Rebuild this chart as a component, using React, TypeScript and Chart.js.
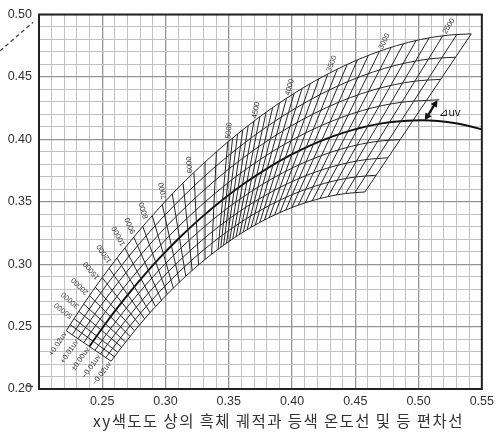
import React, { useEffect, useRef } from "react";
import { Chart, registerables } from "chart.js";

Chart.register(...registerables);

// ---------- Duv (equal deviation) curves, nodes from infinity (0 mired) to 2300 K ----------
const duvLevels = [0.02, 0.015, 0.01, 0.005, 0, -0.005, -0.01, -0.015, -0.02];
const duvLabelTexts = ["+0.02uv", "", "+0.01uv", "", "±0.00uv", "", "−0.01uv", "", "−0.02uv"];

const duvPlus020X = [0.22153, 0.22768, 0.2353, 0.24454, 0.25542, 0.26788, 0.28558, 0.30534, 0.32671, 0.34925, 0.37241, 0.39569, 0.41866, 0.44096, 0.46229, 0.48252, 0.50148, 0.51919, 0.53019, 0.54165];
const duvPlus020Y = [0.24664, 0.25637, 0.26805, 0.28158, 0.29668, 0.31295, 0.33439, 0.35623, 0.37762, 0.39794, 0.41651, 0.43298, 0.4471, 0.45877, 0.46802, 0.47502, 0.47994, 0.48298, 0.48396, 0.48448];
const duvPlus015X = [0.22624, 0.23228, 0.23973, 0.24871, 0.25923, 0.2712, 0.28809, 0.30682, 0.32698, 0.34815, 0.36984, 0.39162, 0.4131, 0.43399, 0.45402, 0.47307, 0.49101, 0.50782, 0.5183, 0.52925];
const duvPlus015Y = [0.2434, 0.25278, 0.26397, 0.27687, 0.29118, 0.30653, 0.32665, 0.34702, 0.36686, 0.38564, 0.40277, 0.41795, 0.43095, 0.44173, 0.4503, 0.45681, 0.46142, 0.46431, 0.46525, 0.46579];
const duvPlus010X = [0.23086, 0.2368, 0.24408, 0.25279, 0.26294, 0.27443, 0.29052, 0.30826, 0.32725, 0.34709, 0.36738, 0.38772, 0.4078, 0.42736, 0.44616, 0.46411, 0.48107, 0.49703, 0.50701, 0.51747];
const duvPlus010Y = [0.24023, 0.24926, 0.25998, 0.27226, 0.28582, 0.30029, 0.31914, 0.33811, 0.3565, 0.37385, 0.38963, 0.40359, 0.41557, 0.42551, 0.43345, 0.43952, 0.44384, 0.44657, 0.44749, 0.44804];
const duvPlus005X = [0.2354, 0.24124, 0.24834, 0.25679, 0.26657, 0.27757, 0.29289, 0.30966, 0.3275, 0.34608, 0.36502, 0.384, 0.40275, 0.42105, 0.43868, 0.45558, 0.47161, 0.48677, 0.49628, 0.50627];
const duvPlus005Y = [0.2371, 0.2458, 0.25606, 0.26775, 0.28059, 0.2942, 0.31185, 0.3295, 0.34652, 0.36252, 0.37703, 0.38988, 0.4009, 0.41007, 0.41743, 0.42307, 0.42712, 0.42972, 0.43061, 0.43117];
// Duv = 0 : blackbody (Planckian) locus, continued past 2300 K to 1740 K
const duvZeroX = [0.23987, 0.2456, 0.25251, 0.2607, 0.27011, 0.28063, 0.29518, 0.31101, 0.32775, 0.3451, 0.36276, 0.38045, 0.39792, 0.41502, 0.43156, 0.44746, 0.46262, 0.47701, 0.48605, 0.49561, 0.50338, 0.5154, 0.52669, 0.53723, 0.54713, 0.5564];
const duvZeroY = [0.23404, 0.2424, 0.25222, 0.26333, 0.27547, 0.28828, 0.30477, 0.32116, 0.3369, 0.35162, 0.36496, 0.37676, 0.38689, 0.39535, 0.40216, 0.40742, 0.41121, 0.41368, 0.41454, 0.4151, 0.41525, 0.41465, 0.41331, 0.41131, 0.40882, 0.40593];
const duvMinus005X = [0.24426, 0.24988, 0.25661, 0.26453, 0.27357, 0.28361, 0.29741, 0.31231, 0.32798, 0.34417, 0.36059, 0.37704, 0.39331, 0.40928, 0.42476, 0.43972, 0.45404, 0.4677, 0.47631, 0.48544];
const duvMinus005Y = [0.23102, 0.23907, 0.24845, 0.25901, 0.27048, 0.2825, 0.29789, 0.3131, 0.32761, 0.34114, 0.35338, 0.3642, 0.37351, 0.3813, 0.3876, 0.39249, 0.39605, 0.39839, 0.39922, 0.39978];
const duvMinus010X = [0.24858, 0.25408, 0.26063, 0.26827, 0.27695, 0.28652, 0.29958, 0.31357, 0.32821, 0.34326, 0.35851, 0.37378, 0.3889, 0.40378, 0.41827, 0.43234, 0.44586, 0.45882, 0.46702, 0.47574];
const duvMinus010Y = [0.22805, 0.23579, 0.24475, 0.25478, 0.2656, 0.27688, 0.29121, 0.30528, 0.31864, 0.33105, 0.34225, 0.35216, 0.36071, 0.36788, 0.3737, 0.37825, 0.38159, 0.38381, 0.38461, 0.38517];
const duvMinus015X = [0.25283, 0.25821, 0.26457, 0.27194, 0.28026, 0.28936, 0.30168, 0.3148, 0.32843, 0.34239, 0.35651, 0.37064, 0.38468, 0.39853, 0.41207, 0.42529, 0.43805, 0.45034, 0.45814, 0.46647];
const duvMinus015Y = [0.22513, 0.23258, 0.24113, 0.25064, 0.26083, 0.27139, 0.28472, 0.29771, 0.30997, 0.32133, 0.33156, 0.34061, 0.34844, 0.35503, 0.36041, 0.36464, 0.36777, 0.36988, 0.37065, 0.37121];
const duvMinus020X = [0.257, 0.26227, 0.26844, 0.27554, 0.28349, 0.29213, 0.30373, 0.31598, 0.32864, 0.34156, 0.35459, 0.36764, 0.38063, 0.3935, 0.40614, 0.41854, 0.43058, 0.44224, 0.44965, 0.45761];
const duvMinus020Y = [0.22226, 0.22941, 0.23757, 0.24658, 0.25617, 0.26603, 0.2784, 0.29036, 0.3016, 0.31196, 0.32128, 0.32953, 0.33668, 0.34273, 0.3477, 0.35163, 0.35457, 0.35656, 0.3573, 0.35785];

// ---------- isotemperature lines (ends at Duv +0.02 and -0.02) ----------
const isoTopX = [0.22153, 0.22461, 0.22768, 0.23149, 0.2353, 0.23992, 0.24454, 0.24998, 0.25542, 0.26165, 0.26788, 0.27496, 0.28204, 0.28953, 0.29744, 0.30534, 0.31389, 0.32244, 0.33122, 0.34023,
  0.34925, 0.35303, 0.35697, 0.36108, 0.36536, 0.36984, 0.37453, 0.37945, 0.3846, 0.39001, 0.39569, 0.40158, 0.40778, 0.41431, 0.42114, 0.42822, 0.43571, 0.44355, 0.45163, 0.46023, 0.46903, 0.47833, 0.48794, 0.49797, 0.50829, 0.51919, 0.53019, 0.54165];
const isoTopY = [0.24664, 0.25151, 0.25637, 0.26221, 0.26805, 0.27482, 0.28158, 0.28913, 0.29668, 0.30482, 0.31295, 0.32153, 0.3301, 0.33876, 0.34749, 0.35623, 0.36479, 0.37334, 0.38168, 0.38981,
  0.39794, 0.40097, 0.40413, 0.40742, 0.41086, 0.41445, 0.41801, 0.42149, 0.42514, 0.42896, 0.43298, 0.4366, 0.44041, 0.44443, 0.4484, 0.4521, 0.45602, 0.45989, 0.4634, 0.46713, 0.47035, 0.47357, 0.47643, 0.47903, 0.48111, 0.48298, 0.48396, 0.48448];
const isoBotX = [0.257, 0.25964, 0.26227, 0.26536, 0.26844, 0.27199, 0.27554, 0.27952, 0.28349, 0.28781, 0.29213, 0.29677, 0.30141, 0.30618, 0.31108, 0.31598, 0.32104, 0.32611, 0.33122, 0.33639,
  0.34156, 0.34369, 0.3459, 0.34821, 0.35063, 0.35314, 0.35578, 0.35854, 0.36143, 0.36446, 0.36764, 0.37097, 0.37448, 0.37817, 0.38206, 0.38615, 0.39047, 0.39503, 0.39982, 0.40492, 0.41027, 0.41597, 0.42198, 0.42835, 0.43506, 0.44224, 0.44965, 0.45761];
const isoBotY = [0.22226, 0.22584, 0.22941, 0.23349, 0.23757, 0.24208, 0.24658, 0.25138, 0.25617, 0.2611, 0.26603, 0.27098, 0.27593, 0.28079, 0.28558, 0.29036, 0.29486, 0.29935, 0.30367, 0.30782,
  0.31196, 0.31348, 0.31507, 0.31672, 0.31844, 0.32025, 0.32203, 0.32377, 0.3256, 0.32752, 0.32953, 0.33136, 0.33329, 0.33533, 0.33735, 0.33927, 0.34131, 0.34333, 0.34522, 0.34722, 0.34901, 0.35082, 0.35247, 0.35403, 0.35534, 0.35656, 0.3573, 0.35785];

// ---------- colour temperature labels ----------
const tempLabelText = ["2500", "3000", "3500", "4000", "4500", "5000", "6000", "7000", "8000", "9000", "10000", "12000", "15000", "20000", "30000", "50000"];
const tempLabelTopX = [0.51919, 0.46903, 0.42822, 0.39569, 0.36984, 0.34925, 0.31959, 0.29969, 0.28558, 0.27574, 0.26788, 0.2575, 0.24817, 0.23992, 0.23276, 0.22768];
const tempLabelTopY = [0.48298, 0.47035, 0.4521, 0.43298, 0.41445, 0.39794, 0.3705, 0.34998, 0.33439, 0.32247, 0.31295, 0.29939, 0.28661, 0.27482, 0.26416, 0.25637];
const tempLabelBotX = [0.44224, 0.41027, 0.38615, 0.36764, 0.35314, 0.34156, 0.32442, 0.31248, 0.30373, 0.29728, 0.29213, 0.28493, 0.27819, 0.27199, 0.26639, 0.26227];
const tempLabelBotY = [0.35656, 0.34901, 0.33927, 0.32953, 0.32025, 0.31196, 0.29786, 0.28694, 0.2784, 0.27152, 0.26603, 0.25781, 0.24977, 0.24208, 0.23485, 0.22941];

// ---------- Δuv marker ----------
const deltaArrowX = [0.5049, 0.515];
const deltaArrowY = [0.4152, 0.4316];
const deltaExtX = [0.50627, 0.5165];
const deltaExtY = [0.43117, 0.4317];
const deltaLabel = "⊿uv";
const deltaLabelX = [0.516];
const deltaLabelY = [0.4213];

// ---------- outer dashed fragments ----------
const outerDashX = [0.1692, 0.1953];
const outerDashY = [0.4709, 0.4937];
const outerDash2X = [0.1897, 0.1953];
const outerDash2Y = [0.2026, 0.202];

const chartTitle = "xy색도도 상의 흑체 궤적과 등색 온도선 및 등 편차선";

const duvCurvesX = [duvPlus020X, duvPlus015X, duvPlus010X, duvPlus005X, duvZeroX, duvMinus005X, duvMinus010X, duvMinus015X, duvMinus020X];
const duvCurvesY = [duvPlus020Y, duvPlus015Y, duvPlus010Y, duvPlus005Y, duvZeroY, duvMinus005Y, duvMinus010Y, duvMinus015Y, duvMinus020Y];

const pts = (xs: number[], ys: number[]) => xs.map((v, i) => ({ x: v, y: ys[i] }));
const isMajor = (v: number) => Math.round(v * 100) % 5 === 0;

const MESH = "#262626";
const MESH_W = 1;

function buildDatasets() {
  const ds: any[] = [];
  isoTopX.forEach((_, i) => {
    ds.push({
      data: pts([isoBotX[i], isoTopX[i]], [isoBotY[i], isoTopY[i]]),
      showLine: true, pointRadius: 0, borderColor: MESH, borderWidth: MESH_W,
    });
  });
  duvLevels.forEach((d, k) => {
    const zero = d === 0;
    ds.push({
      data: pts(duvCurvesX[k], duvCurvesY[k]),
      showLine: true, pointRadius: 0,
      borderColor: zero ? "#111" : MESH,
      borderWidth: zero ? 1.9 : MESH_W,
      cubicInterpolationMode: "monotone",
    });
  });
  ds.push({ data: pts(deltaExtX, deltaExtY), showLine: true, pointRadius: 0, borderColor: MESH, borderWidth: MESH_W });
  ds.push({ data: pts(outerDashX, outerDashY), showLine: true, pointRadius: 0, borderColor: "#444", borderWidth: 1.3, borderDash: [4, 3], clip: false });
  ds.push({ data: pts(outerDash2X, outerDash2Y), showLine: true, pointRadius: 0, borderColor: "#444", borderWidth: 1.3, clip: false });
  return ds;
}

const overlayPlugin = {
  id: "overlay",
  afterDatasetsDraw(chart: any) {
    const { ctx, chartArea: a } = chart;
    const xs = chart.scales.x, ys = chart.scales.y;
    const px = (v: number) => xs.getPixelForValue(v);
    const py = (v: number) => ys.getPixelForValue(v);
    ctx.save();
    // frame
    ctx.strokeStyle = "#222";
    ctx.lineWidth = 2;
    ctx.strokeRect(a.left, a.top, a.right - a.left, a.bottom - a.top);

    // temperature labels
    ctx.fillStyle = "#333";
    ctx.font = '7.5px "Liberation Sans", Arial, sans-serif';
    ctx.textBaseline = "middle";
    tempLabelText.forEach((t, i) => {
      const x1 = px(tempLabelTopX[i]), y1 = py(tempLabelTopY[i]);
      const x0 = px(tempLabelBotX[i]), y0 = py(tempLabelBotY[i]);
      const ang = Math.atan2(y1 - y0, x1 - x0);
      ctx.save();
      ctx.translate(x1, y1);
      ctx.rotate(ang);
      ctx.textAlign = "left";
      ctx.fillText(t, 3, 0);
      ctx.restore();
    });

    // Duv labels at the high-temperature end of each curve
    duvLabelTexts.forEach((t, k) => {
      if (!t) return;
      const cx = duvCurvesX[k], cy = duvCurvesY[k];
      const x0 = px(cx[0]), y0 = py(cy[0]);
      const x1 = px(cx[1]), y1 = py(cy[1]);
      const ang = Math.atan2(y1 - y0, x1 - x0);
      ctx.save();
      ctx.translate(x0, y0);
      ctx.rotate(ang);
      ctx.textAlign = "right";
      ctx.fillText(t, -2, 0);
      ctx.restore();
    });

    // Δuv arrow
    const tx = px(deltaArrowX[0]), ty = py(deltaArrowY[0]);
    const hx = px(deltaArrowX[1]), hy = py(deltaArrowY[1]);
    const ang = Math.atan2(hy - ty, hx - tx);
    const L = 7, W = 3.6;
    ctx.strokeStyle = "#111";
    ctx.fillStyle = "#111";
    ctx.lineWidth = 2.2;
    ctx.beginPath();
    ctx.moveTo(tx + Math.cos(ang) * L * 0.8, ty + Math.sin(ang) * L * 0.8);
    ctx.lineTo(hx - Math.cos(ang) * L * 0.8, hy - Math.sin(ang) * L * 0.8);
    ctx.stroke();
    const head = (x: number, y: number, a2: number) => {
      ctx.beginPath();
      ctx.moveTo(x, y);
      ctx.lineTo(x - Math.cos(a2) * L - Math.sin(a2) * W, y - Math.sin(a2) * L + Math.cos(a2) * W);
      ctx.lineTo(x - Math.cos(a2) * L + Math.sin(a2) * W, y - Math.sin(a2) * L - Math.cos(a2) * W);
      ctx.closePath();
      ctx.fill();
    };
    head(hx, hy, ang);
    head(tx, ty, ang + Math.PI);

    ctx.fillStyle = "#222";
    ctx.font = '11.5px "Liberation Sans", "DejaVu Sans", "Noto Sans CJK KR", sans-serif';
    ctx.textAlign = "left";
    ctx.textBaseline = "middle";
    ctx.fillText(deltaLabel, px(deltaLabelX[0]), py(deltaLabelY[0]));

    // title below the axis
    ctx.fillStyle = "#333";
    ctx.font = '15.5px "Noto Sans CJK KR", sans-serif';
    ctx.textAlign = "center";
    ctx.textBaseline = "middle";
    try { (ctx as any).letterSpacing = "1.4px"; } catch (e) {}
    ctx.fillText(chartTitle, (a.left + a.right) / 2 + 18, a.bottom + 32.5);
    ctx.restore();
  },
};

export default function App() {
  const ref = useRef<HTMLCanvasElement>(null);
  useEffect(() => {
    const canvas = ref.current;
    if (!canvas) return;
    const tickFont = { family: '"Liberation Sans", Arial, sans-serif', size: 12.5 };
    const chart = new Chart(canvas, {
      type: "scatter",
      data: { datasets: buildDatasets() },
      plugins: [overlayPlugin],
      options: {
        responsive: false,
        animation: false,
        devicePixelRatio: 1,
        events: [],
        layout: { padding: { top: 8, right: 17, bottom: 0, left: 0 } },
        plugins: { legend: { display: false }, tooltip: { enabled: false }, title: { display: false } },
        scales: {
          x: {
            type: "linear",
            min: 0.2,
            max: 0.55,
            afterFit: (s: any) => { s.height = 47; },
            border: { display: false },
            grid: {
              drawTicks: false,
              color: (c: any) => (isMajor(c.tick.value) ? "#959595" : "#c2c2c2"),
              lineWidth: (c: any) => (isMajor(c.tick.value) ? 1.3 : 1),
            },
            ticks: {
              stepSize: 0.01,
              autoSkip: false,
              maxRotation: 0,
              padding: 5,
              color: "#333",
              font: tickFont,
              callback: (v: any) => {
                const k = Math.round(Number(v) * 100);
                return k % 5 === 0 && k !== 20 ? (k / 100).toFixed(2) : "";
              },
            },
          },
          y: {
            type: "linear",
            min: 0.2,
            max: 0.5,
            afterFit: (s: any) => { s.width = 39; },
            border: { display: false },
            grid: {
              drawTicks: false,
              color: (c: any) => (isMajor(c.tick.value) ? "#959595" : "#c2c2c2"),
              lineWidth: (c: any) => (isMajor(c.tick.value) ? 1.3 : 1),
            },
            ticks: {
              stepSize: 0.01,
              autoSkip: false,
              padding: 7,
              color: "#333",
              font: tickFont,
              callback: (v: any) => {
                const k = Math.round(Number(v) * 100);
                return k % 5 === 0 ? (k / 100).toFixed(2) : "";
              },
            },
          },
        },
      } as any,
    });
    return () => chart.destroy();
  }, []);
  return (
    <div style={{ position: "fixed", left: 0, top: 0, width: 499, height: 436, background: "#fff" }}>
      <canvas ref={ref} width={499} height={436} style={{ display: "block", width: 499, height: 436 }} />
    </div>
  );
}
